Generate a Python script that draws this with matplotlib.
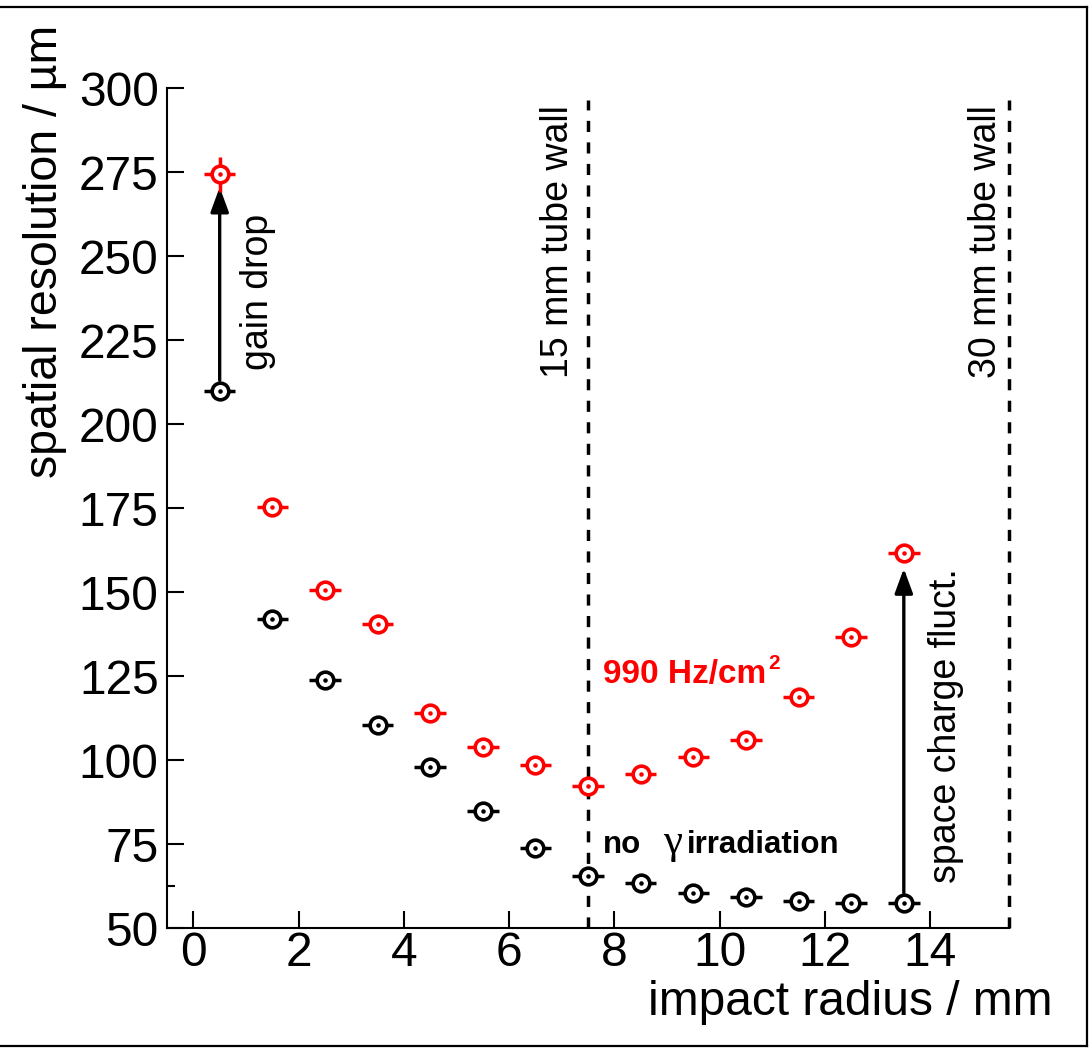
import matplotlib
matplotlib.use("Agg")
import matplotlib.pyplot as plt
from matplotlib.lines import Line2D
from matplotlib.patches import FancyArrowPatch

plt.rcParams['font.family'] = ['Liberation Sans', 'DejaVu Sans']

# bin centres in impact radius (mm) and resolution values (um)
radius = [0.5, 1.5, 2.5, 3.5, 4.5, 5.5, 6.5, 7.5, 8.5, 9.5, 10.5, 11.5, 12.5, 13.5]
res_no_gamma = [209.8, 142.0, 123.8, 110.4, 97.9, 84.8, 73.8, 65.5, 63.3, 60.3, 59.3, 58.0, 57.5, 57.3]
err_no_gamma = [2, 1.5, 1.5, 1.5, 1.5, 1.5, 1.5, 1.5, 1.5, 1.5, 1.5, 1.5, 1.5, 1.5]
res_990 = [274.3, 175.3, 150.6, 140.5, 114.0, 103.9, 98.5, 92.3, 95.7, 100.8, 106.0, 118.7, 136.6, 161.5]
err_990 = [5.2, 2, 2, 2, 2, 2, 2, 2, 2, 2, 2, 2, 2, 2]
x_half = 0.3

fig = plt.figure(figsize=(10.89, 10.48), dpi=100)
ax = fig.add_axes([0.1534, 0.1145, 0.7732, 0.8015])


def draw_series(y, yerr, color):
    ax.errorbar(radius, y, xerr=x_half, yerr=yerr, fmt='o', color=color,
                mfc='white', mec=color, ms=12, mew=2.6, elinewidth=2.5,
                capsize=0, zorder=3)
    ax.plot(radius, y, '.', color=color, ms=4.5, zorder=4)


draw_series(res_no_gamma, err_no_gamma, 'black')
draw_series(res_990, err_990, '#ff0000')

# tube wall positions
for xw in (7.5, 15.5):
    ax.plot([xw, xw], [50, 296.5], color='black', lw=2.5,
            dashes=(3.2, 3.0), zorder=2, clip_on=False)

# arrows between the two conditions
for (x0, y0, y1) in [(0.5, 213.0, 270.5), (13.5, 60.5, 157.0)]:
    arr = FancyArrowPatch((x0, y0), (x0, y1), arrowstyle='-|>,head_length=15,head_width=5.5',
                          mutation_scale=1, lw=2.4, color='black',
                          shrinkA=0, shrinkB=0, zorder=2)
    ax.add_patch(arr)

ax.text(1.22, 216, 'gain drop', rotation=90, ha='center', va='bottom', fontsize=27)
ax.text(6.93, 295, '15 mm tube wall', rotation=90, ha='center', va='top', fontsize=27)
ax.text(15.07, 295, '30 mm tube wall', rotation=90, ha='center', va='top', fontsize=27)
ax.text(14.30, 63.4, 'space charge fluct.', rotation=90, ha='center', va='bottom', fontsize=27)
ax.text(7.79, 122.9, '990 Hz/cm', color='#ff0000', fontsize=24,
        fontweight='bold', ha='left', va='baseline')
ax.text(10.92, 127.0, '2', color='#ff0000', fontsize=15,
        fontweight='bold', ha='left', va='baseline')
ax.text(7.79, 72.3, 'no', color='black', fontsize=22.5,
        fontweight='bold', ha='left', va='baseline')
ax.text(8.93, 72.3, 'γ', color='black', fontsize=31, family='Liberation Serif',
        ha='left', va='baseline')
ax.text(9.38, 72.3, 'irradiation', color='black', fontsize=22.5,
        fontweight='bold', ha='left', va='baseline')

ax.set_xlim(-0.5, 15.5)
ax.set_ylim(50, 300)
ax.set_xticks(range(0, 15, 2))
ax.set_yticks(range(50, 301, 25))
ax.set_yticks([62.5], minor=True)
for side in ('top', 'right'):
    ax.spines[side].set_visible(False)
for side in ('left', 'bottom'):
    ax.spines[side].set_linewidth(1.5)
ax.tick_params(axis='both', which='major', direction='in', length=12, width=1.5,
               labelsize=34.5)
ax.tick_params(axis='y', which='minor', direction='in', length=6, width=1.5)
ax.tick_params(axis='y', which='major', pad=6)
ax.tick_params(axis='x', which='major', pad=2)

fig.text(0.041, 1 - 25 / 1048, 'spatial resolution / µm', rotation=90,
         ha='center', va='top', fontsize=33.5)
fig.text(1052 / 1089, 1 - 1015 / 1048, 'impact radius / mm', ha='right',
         va='baseline', fontsize=34.5)

# outer canvas frame
frame_kw = dict(color='black', lw=1.6, transform=fig.transFigure)
fig.add_artist(Line2D([0, 1087 / 1089], [1 - 7 / 1048] * 2, **frame_kw))
fig.add_artist(Line2D([0, 1087 / 1089], [1 - 1046 / 1048] * 2, **frame_kw))
fig.add_artist(Line2D([1087 / 1089] * 2, [1 - 7 / 1048, 1 - 1046 / 1048], **frame_kw))

fig.savefig('out.png', dpi=100)
